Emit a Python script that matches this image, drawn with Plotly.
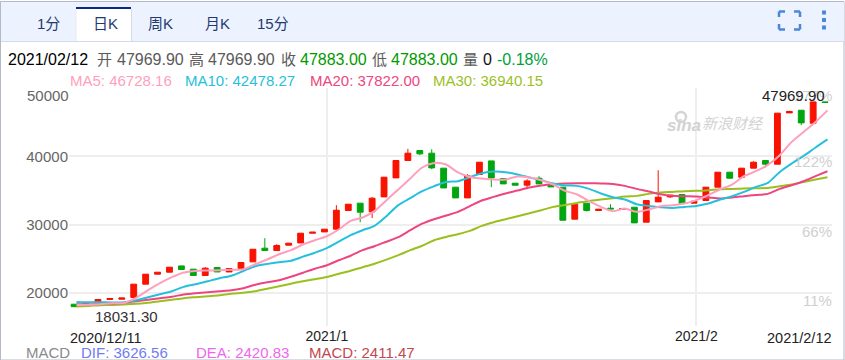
import plotly.graph_objects as go

W, H = 845, 360
PLOT_L, PLOT_R, PLOT_T, PLOT_B = 69, 832, 88, 326

idx = list(range(64))
tab_labels = ["1分", "日K", "周K", "月K", "15分"]
grid_y = [50000, 40000, 30000, 20000]
x_ticks = [21, 52]
x_tick_labels = ["2021/1", "2021/2"]

opens = [18390, 18390, 18680, 19080, 19120, 19370, 21320, 22780, 23070, 23990, 23510, 22590, 23760, 23110, 23610, 24580,
         26580, 26240, 27020, 27350, 28770, 28960, 29360, 32090, 33160, 31890, 34080, 36860, 39400, 40860, 40470, 38280,
         35500, 33930, 37350, 39340, 36770, 36080, 35790, 36810, 35890, 35500, 30820, 33160, 32090, 32430, 32280, 32570,
         30380, 33350, 34080, 34430, 33160, 33550, 35500, 37690, 36960, 38280, 39400, 38860, 46360, 46750, 44850, 47969.90]
closes = [18031.30, 18500, 19080, 19230, 19310, 21320, 22780, 23070, 23800, 23460, 22590, 23660, 23110, 23610, 24490, 26430,
          26240, 26970, 27310, 28770, 28920, 29360, 32130, 33010, 31840, 33890, 36960, 39400, 40470, 40370, 38320, 35390,
          33930, 37150, 39150, 36860, 35980, 35790, 36420, 35980, 35540, 30670, 33010, 32090, 32280, 32320, 32380, 30280,
          33550, 34040, 34330, 33110, 33450, 35500, 37690, 36810, 38280, 39150, 38860, 46320, 46560, 44900, 47970, 47883.00]
highs = [18390, 18500, 19080, 19230, 19310, 21320, 22780, 23070, 23800, 23990, 23510, 23800, 23760, 23610, 24490, 26430,
         28040, 27160, 27310, 28770, 28920, 29360, 32870, 33010, 33160, 34080, 36960, 39400, 41100, 40860, 41050, 38280,
         35500, 37400, 39150, 39340, 36770, 36080, 36670, 37110, 35890, 35500, 33010, 33160, 32280, 33010, 32380, 32570,
         33550, 37980, 34330, 34430, 33450, 35500, 37690, 37690, 38280, 39300, 39400, 46320, 46680, 46750, 47970, 47969.90]
lows = [18031.30, 18390, 18680, 19080, 19120, 19370, 21320, 22780, 23070, 23380, 22590, 22590, 23110, 23110, 23610, 24580,
        26240, 26240, 27020, 27350, 28770, 28960, 29360, 32090, 30380, 30970, 34080, 36860, 39400, 40180, 38130, 35390,
        33930, 33930, 37350, 35500, 35980, 35790, 35200, 35980, 35540, 30670, 30820, 31940, 32090, 32320, 32280, 30280,
        30380, 33350, 33930, 33110, 33160, 33550, 35500, 36810, 36960, 38280, 38380, 38860, 46360, 44560, 44850, 47883.00]

ma5 = [18290, 18320, 18390, 18540, 18580, 19310, 20440, 21460, 22340, 23030, 23260, 23320, 23360, 23440, 23510, 24240,
       24930, 25700, 26290, 27120, 27750, 28330, 29310, 30570, 31070, 31990, 33600, 35160, 36770, 38380, 39050, 38820,
       37650, 37000, 36770, 36620, 36620, 37060, 36920, 36520, 35890, 34960, 34430, 33450, 32620, 31990, 32380, 31890,
       32240, 32720, 32870, 33110, 33600, 34330, 35200, 35890, 37110, 37840, 38760, 40180, 42120, 43580, 45040, 46728.16]
ma10 = [18730, 18680, 18680, 18650, 18680, 18980, 19420, 19850, 20290, 20920, 21320, 21750, 22190, 22560, 23250, 23950,
        24280, 24530, 24750, 25340, 25920, 26580, 27530, 28480, 29210, 29840, 31260, 32870, 33890, 34910, 35640, 36270,
        36370, 36960, 37540, 37790, 37690, 37350, 36920, 36520, 36040, 35750, 35690, 35250, 34580, 34040, 33700, 33010,
        32760, 32570, 32470, 32620, 32760, 33110, 33700, 34180, 34810, 35540, 36130, 37730, 38960, 40070, 41300, 42478.27]
ma20 = [18390, 18390, 18440, 18490, 18580, 18830, 19050, 19270, 19490, 19810, 20000, 20150, 20290, 20440, 20730, 21240,
        21610, 21900, 22410, 23000, 23580, 24090, 24820, 25480, 26290, 26870, 27530, 28190, 29210, 30160, 30820, 31360,
        31890, 32720, 33550, 34080, 34580, 35010, 35450, 35750, 35940, 36040, 36080, 36080, 36040, 35980, 35690, 35250,
        34870, 34470, 34230, 34180, 34140, 33990, 33850, 33990, 34180, 34370, 34520, 35250, 35790, 36370, 37110, 37822.00]
ma30 = [18060, 18140, 18250, 18290, 18360, 18440, 18610, 18830, 19050, 19270, 19420, 19560, 19710, 19930, 20070, 20290,
        20660, 21020, 21390, 21750, 22050, 22380, 22850, 23290, 23800, 24310, 24900, 25560, 26290, 26940, 27750, 28230,
        28630, 29110, 29840, 30380, 30820, 31260, 31700, 32130, 32620, 32910, 33200, 33490, 33700, 33890, 34140, 34230,
        34520, 34720, 34810, 34910, 34960, 35060, 35200, 35250, 35310, 35350, 35390, 35640, 35890, 36270, 36620, 36940.15]

RED, GREEN = "#f81200", "#00a60f"
C_MA5, C_MA10, C_MA20, C_MA30 = "#ff9fbc", "#26bfdc", "#ee4580", "#9bbf1f"
FONT = "Liberation Sans, Arial, Noto Sans CJK SC, sans-serif"


def px(x):
    return x / W


def py(y):
    return 1 - y / H


CANDLE_SHIFT = -0.2
X_SCALE = 11.92
X_ZERO = 76.5

fig = go.Figure()
fig.add_trace(go.Candlestick(
    x=[i + CANDLE_SHIFT for i in idx], open=opens, high=highs, low=lows, close=closes,
    increasing=dict(line=dict(color=RED, width=1), fillcolor=RED),
    decreasing=dict(line=dict(color=GREEN, width=1), fillcolor=GREEN),
    whiskerwidth=0, showlegend=False, hoverinfo="skip"))
for vals, col in [(ma30, C_MA30), (ma20, C_MA20), (ma10, C_MA10), (ma5, C_MA5)]:
    fig.add_trace(go.Scatter(x=idx, y=vals, mode="lines",
                             line=dict(color=col, width=2, shape="spline", smoothing=0.8),
                             showlegend=False, hoverinfo="skip"))

shapes = []


def rect(x0, y0, x1, y1, fill, line=None, lw=0):
    shapes.append(dict(type="rect", xref="paper", yref="paper", x0=px(x0), x1=px(x1), y0=py(y0), y1=py(y1),
                       fillcolor=fill, line=dict(color=line or fill, width=lw), layer="below"))


def seg(x0, y0, x1, y1, col, lw):
    shapes.append(dict(type="line", xref="paper", yref="paper", x0=px(x0), x1=px(x1), y0=py(y0), y1=py(y1),
                       line=dict(color=col, width=lw), layer="above"))


rect(0.5, 1.5, 844, 360, "#ffffff", "#b4b8c8", 1)
rect(1, 2, 844, 41, "#edf3fe")
seg(1, 41.5, 844, 41.5, "#d3dae8", 1)
rect(76, 9, 131, 42, "#ffffff")
rect(76, 7, 131, 9, "#0a2a80")
seg(131.5, 9, 131.5, 41, "#d3dae8", 1)
seg(76, 9, 76, 41, "#e4e9f2", 1)

# fullscreen icon
BL = "#4a87d9"
for (a, b, c, d, e, f) in [(779, 17, 779, 11.5, 785, 11.5), (794, 11.5, 800, 11.5, 800, 17),
                           (779, 24, 779, 29.5, 785, 29.5), (794, 29.5, 800, 29.5, 800, 24)]:
    seg(a, b, c, d, BL, 2.5)
    seg(c, d, e, f, BL, 2.5)
# menu dots
for yy in (12.5, 20, 27.5):
    rect(822, yy - 2, 826, yy + 2, BL)
    shapes[-1]["layer"] = "above"

# watermark eye
shapes.append(dict(type="circle", xref="paper", yref="paper", x0=px(676), x1=px(686), y0=py(122), y1=py(112),
                   line=dict(color="#d4d4d4", width=2.5), layer="below"))

ann = []


def text(x, y, s, color, size=15, anchor="left", family=FONT):
    ann.append(dict(xref="paper", yref="paper", x=px(x), y=py(y), text=s, showarrow=False, xanchor=anchor,
                    yanchor="middle", font=dict(family=family, size=size, color=color), borderpad=0, borderwidth=0))


for t, cx in zip(tab_labels, [48, 105, 160, 217, 273]):
    text(cx, 24, t, "#1f3a70", 15, "center")

GR = "#5a5a5a"
text(8, 59.5, "2021/02/12", "#000000", 16)
text(96.5, 59.5, "开", GR, 15)
text(116.5, 59.5, "47969.90", GR, 16)
text(188.5, 59.5, "高", GR, 15)
text(208, 59.5, "47969.90", GR, 16)
text(280.5, 59.5, "收", GR, 15)
text(300, 59.5, "47883.00", "#009a00", 16)
text(371.5, 59.5, "低", GR, 15)
text(391, 59.5, "47883.00", "#009a00", 16)
text(462.5, 59.5, "量", GR, 15)
text(483, 59.5, "0", "#111111", 16)
text(497, 59.5, "-0.18%", "#00a040", 16)

text(70, 80, "MA5: 46728.16", C_MA5)
text(185, 80, "MA10: 42478.27", C_MA10)
text(310, 80, "MA20: 37822.00", C_MA20)
text(433, 80, "MA30: 36940.15", C_MA30)

text(69, 96, "50000", "#666666", 15, "right")
for s, yy in [("177%", 96), ("122%", 162), ("66%", 231), ("11%", 300)]:
    text(832, yy, s, "#cfcfcf", 15, "right")

text(825, 96, "47969.90", "#222222", 15, "right")
text(95, 316, "18031.30", "#333333", 15)
text(70, 338, "2020/12/11", "#222222", 14.5)
text(832, 338, "2021/2/12", "#222222", 14.5, "right")

text(26, 352.5, "MACD", "#8a8a8a")
text(81, 352.5, "DIF: 3626.56", "#6f7cf5")
text(196, 352.5, "DEA: 2420.83", "#ef66ee")
text(309, 352.5, "MACD: 2411.47", "#c2474f")

text(667, 126, "<b><i>sina</i></b>", "#d2d2d2", 17)
text(702, 123, "<i>新浪财经</i>", "#d2d2d2", 15)

fig.update_layout(
    width=W, height=H, margin=dict(l=0, r=0, t=0, b=0), paper_bgcolor="#ffffff", plot_bgcolor="#ffffff",
    shapes=shapes, annotations=ann, showlegend=False, hovermode=False,
    font=dict(family=FONT),
    xaxis=dict(domain=[px(PLOT_L), px(PLOT_R)],
               range=[(PLOT_L - X_ZERO) / X_SCALE, (PLOT_R - X_ZERO) / X_SCALE],
               tickmode="array", tickvals=x_ticks, ticktext=x_tick_labels, showgrid=True, gridcolor="#eeeeee",
               gridwidth=1.5, zeroline=False, showline=False, ticks="", rangeslider=dict(visible=False),
               tickfont=dict(size=14, color="#222222", family=FONT)),
    yaxis=dict(domain=[py(PLOT_B), py(PLOT_T)],
               range=[50000 - (PLOT_B - PLOT_T) * 146.2, 50000],
               tickmode="array", tickvals=grid_y, ticktext=["", "40000", "30000", "20000"], showgrid=True,
               gridcolor="#eeeeee", gridwidth=1.5, zeroline=False, showline=False, ticks="",
               tickfont=dict(size=15, color="#666666", family=FONT)),
)

fig.write_html("out.html", config=dict(displayModeBar=False),
               post_script="document.body.style.margin='0';document.body.style.overflow='hidden';")
